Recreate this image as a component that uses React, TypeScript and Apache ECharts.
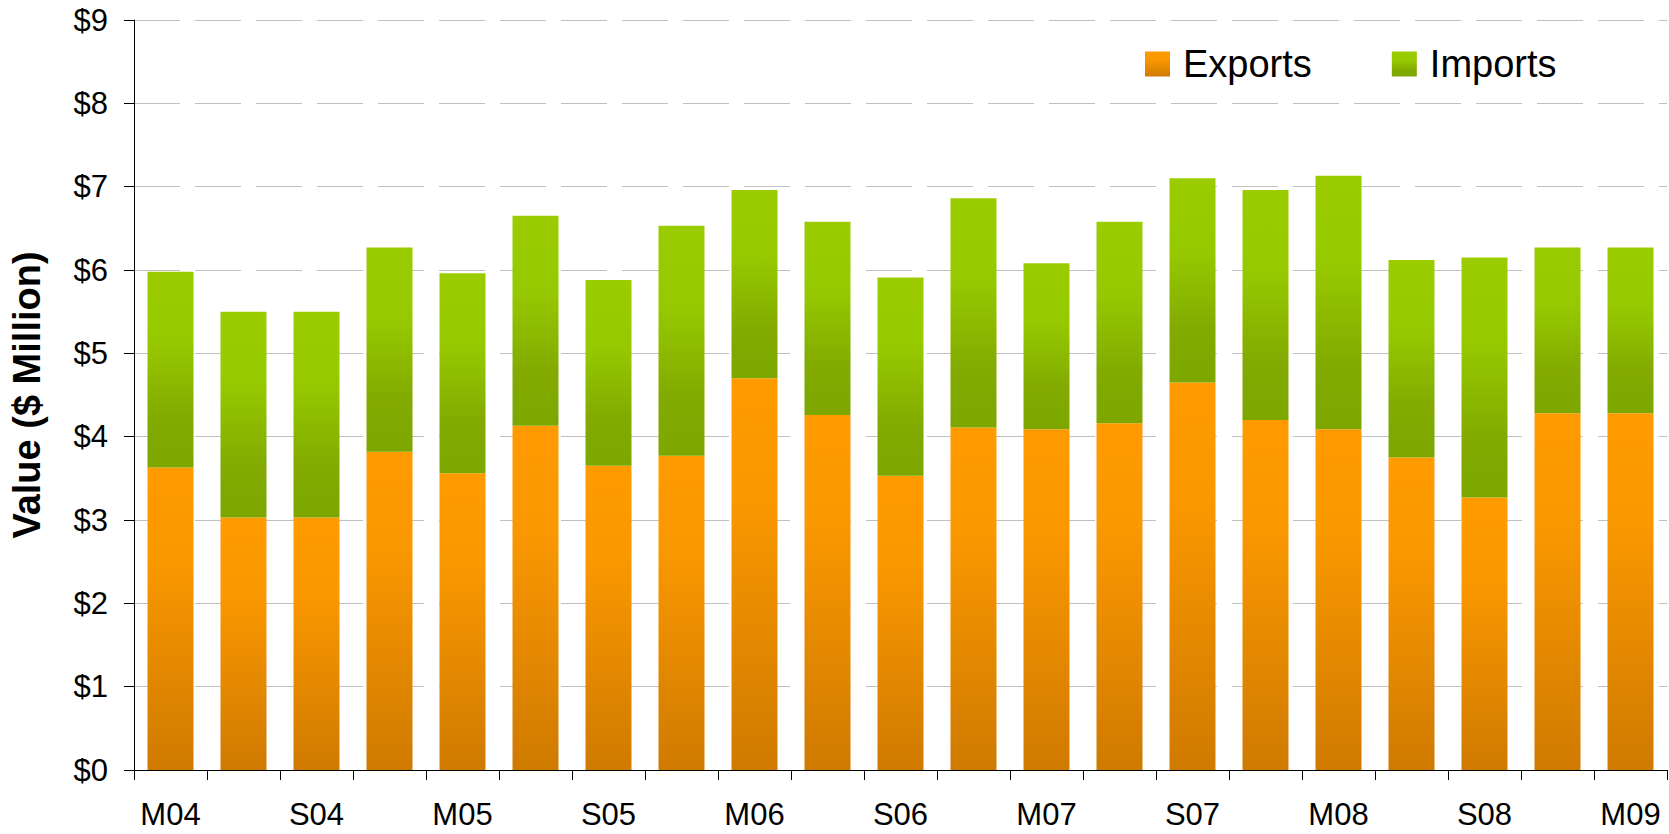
import React, { useEffect, useRef } from "react";
import * as echarts from "echarts";

const categories = [
  "M04", "J04", "S04", "D04", "M05", "J05", "S05", "D05", "M06", "J06", "S06",
  "D06", "M07", "J07", "S07", "D07", "M08", "J08", "S08", "D08", "M09",
];

const exportsValues = [
  3.63, 3.03, 3.03, 3.82, 3.56, 4.13, 3.65, 3.77, 4.7, 4.26, 3.53,
  4.11, 4.09, 4.16, 4.65, 4.2, 4.09, 3.75, 3.27, 4.28, 4.28,
];

const importsValues = [
  2.35, 2.47, 2.47, 2.45, 2.4, 2.52, 2.23, 2.76, 2.26, 2.32, 2.38,
  2.75, 1.99, 2.42, 2.45, 2.76, 3.04, 2.37, 2.88, 1.99, 1.99,
];

const FONT = "'Liberation Sans', Arial, sans-serif";

export default function App() {
  const ref = useRef<HTMLDivElement>(null);

  useEffect(() => {
    if (!ref.current) return;
    const chart = echarts.init(ref.current, null, { renderer: "svg" });

    const orange = new echarts.graphic.LinearGradient(0, 0, 0, 1, [
      { offset: 0, color: "#FF9B00" },
      { offset: 0.3, color: "#FA9800" },
      { offset: 1, color: "#CF7A00" },
    ]);
    const green = new echarts.graphic.LinearGradient(0, 0, 0, 1, [
      { offset: 0, color: "#9ACC00" },
      { offset: 0.35, color: "#97C900" },
      { offset: 0.75, color: "#82AA00" },
      { offset: 1, color: "#7DA700" },
    ]);

    chart.setOption({
      animation: false,
      textStyle: { fontFamily: FONT },
      grid: { left: 133, right: 2, top: 20, bottom: 64, containLabel: false },
      legend: {
        left: 1145,
        top: 45,
        padding: 0,
        itemWidth: 25,
        itemHeight: 25,
        itemGap: 80,
        icon: "rect",
        textStyle: {
          fontFamily: FONT,
          fontSize: 38,
          lineHeight: 38,
          color: "#000",
          padding: [0, 0, 0, 8],
        },
        data: ["Exports", "Imports"],
      },
      xAxis: {
        type: "category",
        data: categories,
        boundaryGap: true,
        axisLine: { lineStyle: { color: "#000", width: 1 } },
        axisTick: {
          show: true,
          interval: 0,
          length: 10,
          alignWithLabel: false,
          lineStyle: { color: "#000" },
        },
        axisLabel: {
          interval: 1,
          margin: 29,
          fontSize: 31,
          color: "#000",
          fontFamily: FONT,
        },
        splitLine: { show: false },
      },
      yAxis: {
        type: "value",
        min: 0,
        max: 9,
        interval: 1,
        name: "Value ($ Million)",
        nameLocation: "middle",
        nameRotate: 90,
        nameGap: 88,
        nameTextStyle: {
          fontFamily: FONT,
          fontSize: 38,
          fontWeight: "bold",
          color: "#000",
        },
        axisLine: { show: true, lineStyle: { color: "#000", width: 1 } },
        axisTick: { show: true, length: 10, lineStyle: { color: "#000" } },
        axisLabel: {
          margin: 26,
          fontSize: 31,
          color: "#000",
          fontFamily: FONT,
          formatter: (v: number) => "$" + v,
        },
        splitLine: {
          show: true,
          lineStyle: { color: "#C0C0C0", width: 1, type: [46, 15] },
        },
      },
      series: [
        {
          name: "Exports",
          type: "bar",
          stack: "total",
          barCategoryGap: "37%",
          data: exportsValues,
          itemStyle: { color: orange },
        },
        {
          name: "Imports",
          type: "bar",
          stack: "total",
          barCategoryGap: "37%",
          data: importsValues,
          itemStyle: { color: green },
        },
      ],
    });

    return () => chart.dispose();
  }, []);

  return (
    <div
      ref={ref}
      style={{ position: "absolute", left: 0, top: 0, width: 1669, height: 834 }}
    />
  );
}
